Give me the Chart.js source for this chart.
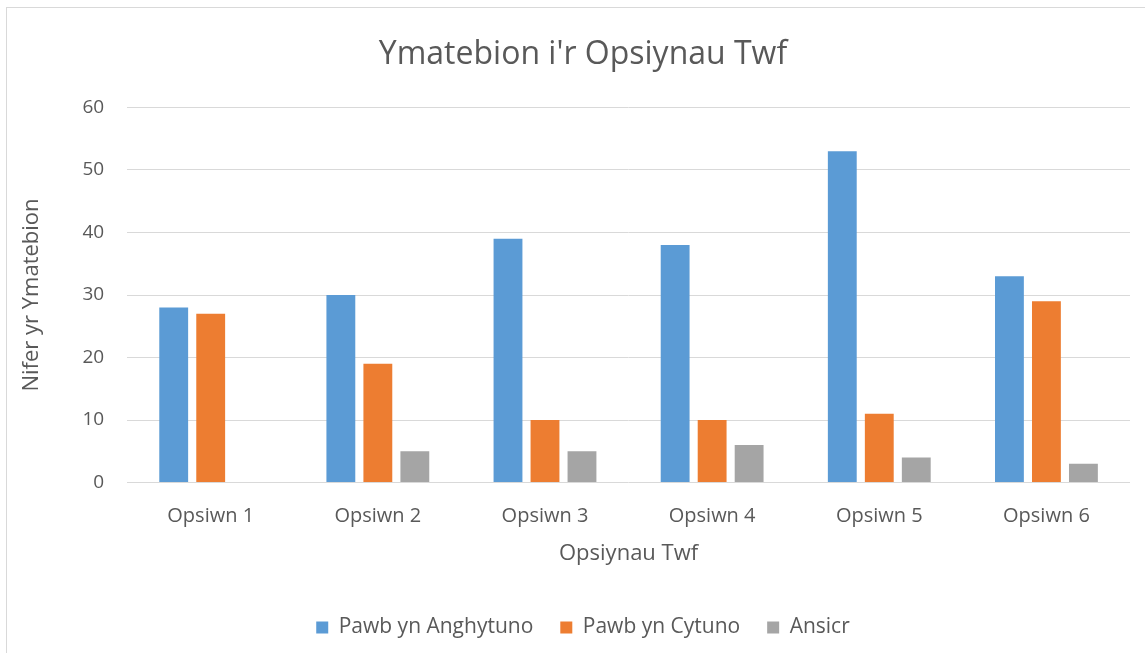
<!DOCTYPE html>
<html>
<head>
<meta charset="utf-8">
<script src="https://cdn.jsdelivr.net/npm/chart.js@4.4.1/dist/chart.umd.min.js"></script>
<style>
  html, body { margin: 0; padding: 0; background: #fff; overflow: hidden; width: 1145px; height: 653px; }
  #frame { position: absolute; left: 6px; top: 7px; width: 1160px; height: 660px; border: 1px solid #d9d9d9; box-sizing: border-box; }
  #c { position: absolute; left: 0; top: 0; }
</style>
</head>
<body>
<div id="frame"></div>
<canvas id="c" width="1170" height="653"></canvas>
<script>
const categories = ['Opsiwn 1', 'Opsiwn 2', 'Opsiwn 3', 'Opsiwn 4', 'Opsiwn 5', 'Opsiwn 6'];
const seriesNames = ['Pawb yn Anghytuno', 'Pawb yn Cytuno', 'Ansicr'];
const anghytuno = [28, 30, 39, 38, 53, 33];
const cytuno = [27, 19, 10, 10, 11, 29];
const ansicr = [0, 5, 5, 6, 4, 3];
const colors = ['#5b9bd5', '#ed7d31', '#a5a5a5'];

const FONT = "'Open Sans', 'Liberation Sans', sans-serif";
const TXT = '#595959';

new Chart(document.getElementById('c'), {
  type: 'bar',
  data: {
    labels: categories,
    datasets: [anghytuno, cytuno, ansicr].map((d, i) => ({
      label: seriesNames[i],
      data: d,
      backgroundColor: colors[i],
      borderWidth: 0,
      barPercentage: 0.78,
      categoryPercentage: 0.664
    }))
  },
  options: {
    responsive: false,
    animation: false,
    layout: { padding: { left: 36, right: 40, top: 36, bottom: 5 } },
    plugins: {
      title: {
        display: true,
        text: "Ymatebion i'r Opsiynau Twf",
        color: TXT,
        font: { family: FONT, size: 32, weight: 'normal' },
        padding: { top: 0, bottom: 33 }
      },
      legend: {
        position: 'bottom',
        labels: {
          color: TXT,
          font: { family: FONT, size: 21 },
          boxWidth: 12,
          boxHeight: 12,
          padding: 27
        }
      },
      tooltip: { enabled: false }
    },
    scales: {
      x: {
        grid: { display: false },
        border: { display: false },
        ticks: { color: TXT, font: { family: FONT, size: 20 }, padding: 14 },
        title: {
          display: true,
          text: 'Opsiynau Twf',
          color: TXT,
          font: { family: FONT, size: 22 },
          padding: { top: -2, bottom: 23 }
        }
      },
      y: {
        min: 0,
        max: 60,
        ticks: { stepSize: 10, color: TXT, font: { family: FONT, size: 19 }, padding: 23 },
        grid: { color: '#d9d9d9', lineWidth: 1, drawTicks: false },
        border: { display: false },
        title: {
          display: true,
          text: 'Nifer yr Ymatebion',
          color: TXT,
          font: { family: FONT, size: 22 },
          padding: { top: -17, bottom: 14 }
        }
      }
    }
  }
});
</script>
</body>
</html>
